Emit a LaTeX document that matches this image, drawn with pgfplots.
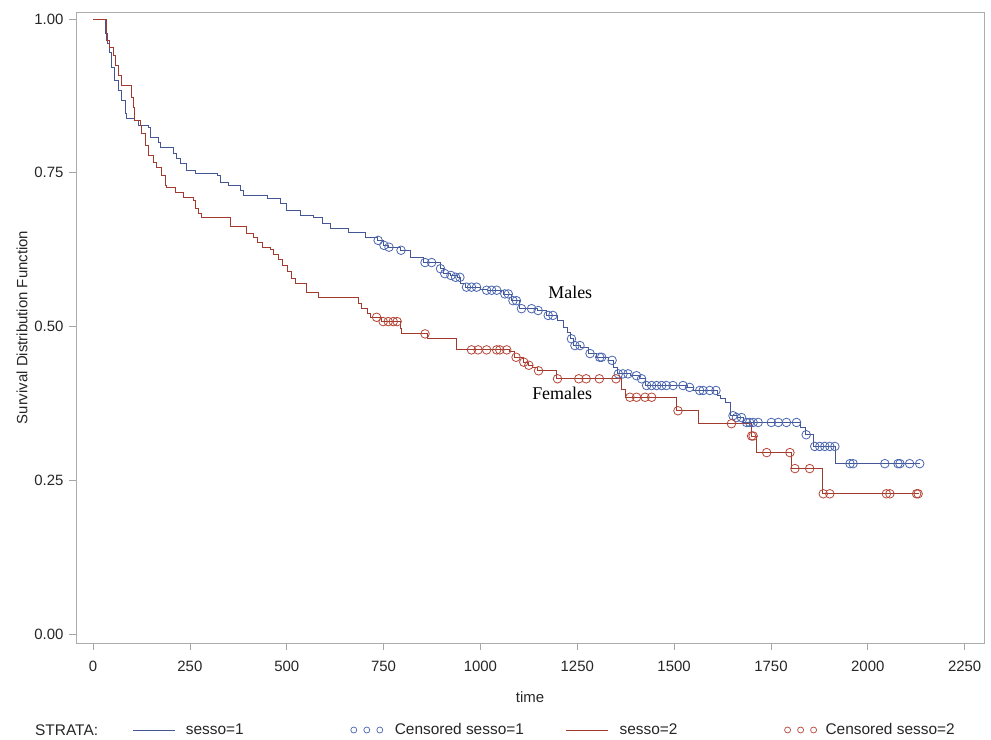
\documentclass[border=0pt]{standalone}
\usepackage{pgfplots}
\pgfplotsset{compat=1.18}
\usepackage{fontspec}
\setmainfont{Liberation Sans}
\newfontfamily\serifnm{Liberation Serif}
\definecolor{sblue}{HTML}{445694}
\definecolor{sred}{HTML}{A23A2E}
\definecolor{cblue}{HTML}{4A66B0}
\definecolor{cred}{HTML}{B54536}
\pgfplotsset{
  linelegend/.style={legend image code/.code={\draw[##1] (0bp,0bp) -- (42bp,0bp);}},
  circlegend/.style={legend image code/.code={\draw[##1, mark repeat=1, mark phase=1] plot coordinates {(3bp,0bp)(16bp,0bp)(29bp,0bp)};}},
}
\begin{document}
\begin{tikzpicture}
\useasboundingbox (-76bp,-97bp) rectangle (915bp,643bp);
\begin{axis}[
  scale only axis, width=908bp, height=631bp,
  xmin=-44, xmax=2300, ymin=-0.0146, ymax=1.0114,
  axis line style={draw=gray!65, line width=0.7bp},
  xtick={0,250,...,2250}, ytick={0,0.25,0.5,0.75,1},
  tick pos=left, tick align=outside, major tick length=7bp,
  tick style={draw=gray!70, line width=0.7bp},
  /pgf/number format/assume math mode=true,
  yticklabel style={/pgf/number format/fixed, /pgf/number format/fixed zerofill, /pgf/number format/precision=2, xshift=-2bp},
  xticklabel style={/pgf/number format/1000 sep={}, yshift=-8bp},
  ticklabel style={font=\fontsize{15}{17}\selectfont, text=black!85},
  xlabel={time}, ylabel={Survival Distribution Function},
  label style={font=\fontsize{15}{17}\selectfont, text=black!85},
  xlabel style={at={(axis description cs:0.5,-0.0856)}, anchor=center},
  ylabel style={at={(axis description cs:-0.0595,0.5)}, anchor=center},
  legend columns=4,
  legend style={at={(axis description cs:0,0)}, anchor=west, xshift=57bp, yshift=-87bp,
    draw=none, fill=none, inner sep=0pt, outer sep=0pt,
    nodes={inner sep=0pt, text=black!85}, font=\fontsize{15.5}{17}\selectfont,
    /tikz/every even column/.style={column sep=0pt},
    /tikz/every odd column/.style={column sep=0pt}},
]
% sesso=1
\addplot[sblue, line width=0.8bp, const plot, forget plot] coordinates {
(0,1.000)(31,0.977)(38,0.960)(42,0.945)(48,0.922)(55,0.900)(65,0.884)(74,0.868)(83,0.847)(87,0.838)(108,0.835)(116,0.827)(142,0.824)(147,0.808)(168,0.800)(173,0.792)(207,0.781)(216,0.773)(225,0.765)(242,0.754)(263,0.749)(320,0.746)(328,0.735)(350,0.730)(380,0.722)(388,0.713)(449,0.708)(483,0.700)(500,0.689)(535,0.681)(569,0.678)(591,0.668)(612,0.660)(659,0.653)(703,0.645)(733,0.640)(749,0.632)(762,0.629)(793,0.624)(819,0.612)(853,0.604)(896,0.594)(905,0.586)(922,0.583)(940,0.580)(948,0.570)(961,0.564)(1000,0.561)(1017,0.559)(1060,0.553)(1080,0.542)(1100,0.529)(1147,0.526)(1170,0.518)(1198,0.510)(1215,0.498)(1224,0.490)(1233,0.480)(1241,0.469)(1258,0.466)(1280,0.456)(1300,0.450)(1330,0.445)(1344,0.433)(1353,0.423)(1387,0.420)(1410,0.415)(1425,0.404)(1534,0.401)(1550,0.396)(1611,0.388)(1620,0.383)(1633,0.376)(1646,0.355)(1663,0.352)(1679,0.344)(1826,0.336)(1839,0.324)(1860,0.305)(1917,0.277)(2136,0.277)
};
% sesso=2
\addplot[sred, line width=0.8bp, const plot, forget plot] coordinates {
(0,1.000)(35,0.966)(42,0.954)(52,0.941)(59,0.925)(65,0.909)(72,0.892)(100,0.873)(103,0.857)(108,0.835)(121,0.827)(126,0.814)(134,0.795)(142,0.778)(155,0.767)(164,0.759)(177,0.746)(186,0.730)(190,0.726)(212,0.718)(233,0.710)(259,0.705)(264,0.692)(272,0.684)(281,0.678)(354,0.662)(397,0.651)(413,0.645)(423,0.637)(436,0.629)(457,0.625)(466,0.617)(478,0.609)(490,0.600)(503,0.590)(512,0.578)(522,0.570)(552,0.555)(582,0.547)(685,0.537)(694,0.529)(707,0.521)(716,0.515)(745,0.508)(793,0.497)(797,0.488)(862,0.480)(939,0.462)(1076,0.459)(1089,0.450)(1110,0.442)(1123,0.437)(1135,0.433)(1148,0.428)(1197,0.415)(1364,0.397)(1373,0.385)(1506,0.363)(1562,0.342)(1700,0.322)(1713,0.295)(1803,0.269)(1882,0.228)(2132,0.228)
};
% censored sesso=1
\addplot[cblue, only marks, mark=o, mark size=4.3bp, mark options={line width=0.8bp}, forget plot] coordinates {
(736,0.640)(751,0.632)(764,0.629)(795,0.624)(857,0.604)(874,0.604)(897,0.594)(908,0.586)(924,0.583)(936,0.580)(947,0.580)(964,0.564)(977,0.564)(990,0.564)(1016,0.559)(1029,0.559)(1042,0.559)(1063,0.553)(1072,0.553)(1084,0.542)(1093,0.542)(1106,0.529)(1132,0.529)(1149,0.526)(1175,0.518)(1187,0.518)(1235,0.480)(1244,0.469)(1257,0.469)(1283,0.456)(1308,0.450)(1313,0.450)(1340,0.445)(1356,0.423)(1368,0.423)(1381,0.423)(1403,0.420)(1416,0.415)(1429,0.404)(1442,0.404)(1455,0.404)(1468,0.404)(1480,0.404)(1497,0.404)(1523,0.404)(1540,0.401)(1566,0.396)(1575,0.396)(1592,0.396)(1608,0.396)(1652,0.355)(1661,0.352)(1674,0.352)(1687,0.344)(1695,0.344)(1704,0.344)(1717,0.344)(1751,0.344)(1769,0.344)(1790,0.344)(1816,0.344)(1841,0.324)(1863,0.305)(1876,0.305)(1889,0.305)(1902,0.305)(1915,0.305)(1954,0.277)(1962,0.277)(2044,0.277)(2078,0.277)(2083,0.277)(2108,0.277)(2134,0.277)
};
% censored sesso=2
\addplot[cred, only marks, mark=o, mark size=4.3bp, mark options={line width=0.8bp}, forget plot] coordinates {
(732,0.515)(749,0.508)(762,0.508)(775,0.508)(785,0.508)(857,0.488)(977,0.462)(994,0.462)(1016,0.462)(1042,0.462)(1050,0.462)(1068,0.462)(1092,0.450)(1112,0.442)(1125,0.437)(1150,0.428)(1199,0.415)(1254,0.415)(1273,0.415)(1307,0.415)(1350,0.415)(1386,0.385)(1403,0.385)(1425,0.385)(1442,0.385)(1510,0.363)(1648,0.342)(1700,0.322)(1704,0.322)(1739,0.295)(1799,0.295)(1812,0.269)(1850,0.269)(1885,0.228)(1902,0.228)(2048,0.228)(2057,0.228)(2126,0.228)(2130,0.228)
};
% legend
\addlegendimage{sblue, line width=0.8bp, linelegend}
\addlegendentry{\makebox[175bp][l]{\hspace{10bp}sesso=1}}
\addlegendimage{cblue, only marks, mark=o, mark size=3bp, mark options={line width=0.7bp}, circlegend}
\addlegendentry{\makebox[183bp][l]{\hspace{12bp}Censored sesso=1}}
\addlegendimage{sred, line width=0.8bp, linelegend}
\addlegendentry{\makebox[176bp][l]{\hspace{11bp}sesso=2}}
\addlegendimage{cred, only marks, mark=o, mark size=3bp, mark options={line width=0.7bp}, circlegend}
\addlegendentry{\hspace{9bp}Censored sesso=2}
\node[font=\serifnm\fontsize{18}{20}\selectfont] at (axis cs:1232,0.556) {Males};
\node[font=\serifnm\fontsize{18}{20}\selectfont] at (axis cs:1211,0.392) {Females};
\end{axis}
\node[anchor=west, inner sep=0pt, font=\fontsize{15.5}{17}\selectfont, text=black!85] at (-41bp,-87bp) {STRATA:};
\end{tikzpicture}
\end{document}
